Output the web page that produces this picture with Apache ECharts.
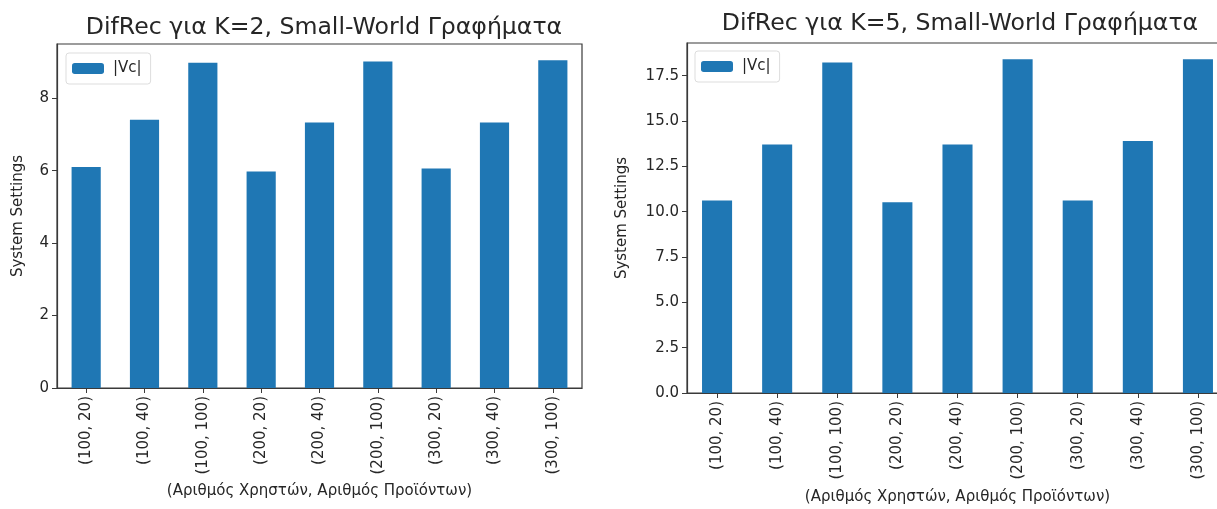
<!DOCTYPE html>
<html>
<head>
<meta charset="utf-8">
<script src="https://cdn.jsdelivr.net/npm/echarts@6/dist/echarts.min.js"></script>
<style>
  html, body { margin: 0; padding: 0; background: #fff; }
  #chart { width: 1217px; height: 509px; }
</style>
</head>
<body>
<div id="chart"></div>
<script>
// (users, items) configurations
const categories = ['(100, 20)', '(100, 40)', '(100, 100)', '(200, 20)', '(200, 40)', '(200, 100)', '(300, 20)', '(300, 40)', '(300, 100)'];
// |Vc| per configuration, K=2 and K=5
const vcK2 = [6.10, 7.41, 8.98, 5.98, 7.33, 9.02, 6.06, 7.33, 9.05];
const vcK5 = [10.62, 13.70, 18.22, 10.52, 13.70, 18.40, 10.62, 13.90, 18.40];
const seriesName = '|Vc|';
const titleK2 = 'DifRec για K=2, Small-World Γραφήματα';
const titleK5 = 'DifRec για K=5, Small-World Γραφήματα';
const xName = '(Αριθμός Χρηστών, Αριθμός Προϊόντων)';
const yName = 'System Settings';

const FONT = 'DejaVu Sans';
const TXT = '#262626';
const BLUE = '#1f77b4';
const AX = '#3a3a3a';

function xAxisCfg(gridIndex, gap) {
  return {
    type: 'category', gridIndex, data: categories,
    name: xName, nameLocation: 'middle', nameGap: gap,
    nameTextStyle: { fontFamily: FONT, fontSize: 15, color: TXT },
    axisLine: { show: true, lineStyle: { color: AX, width: 1.2 } },
    axisTick: { show: true, alignWithLabel: true, length: 5, lineStyle: { color: AX } },
    axisLabel: { rotate: 90, fontFamily: FONT, fontSize: 15, color: TXT, margin: 8, interval: 0 },
    splitLine: { show: false }
  };
}
function yAxisCfg(gridIndex, max, interval, digits, gap) {
  return {
    type: 'value', gridIndex, min: 0, max, interval,
    name: yName, nameLocation: 'middle', nameGap: gap, nameRotate: 90,
    nameTextStyle: { fontFamily: FONT, fontSize: 15, color: TXT },
    axisLine: { show: true, lineStyle: { color: AX, width: 1.2 } },
    axisTick: { show: true, length: 5, lineStyle: { color: AX } },
    axisLabel: { fontFamily: FONT, fontSize: 15, color: TXT, margin: 8, showMaxLabel: false,
      formatter: v => v.toFixed(digits) },
    splitLine: { show: false }
  };
}
function legendCfg(left, top) {
  return {
    data: [seriesName], left, top, orient: 'vertical',
    itemWidth: 32, itemHeight: 11, itemGap: 10,
    padding: [8, 9, 8, 6],
    borderColor: '#dddddd', borderWidth: 1, borderRadius: 3,
    backgroundColor: 'rgba(255,255,255,0.8)',
    textStyle: { fontFamily: FONT, fontSize: 15, color: TXT, padding: [0, 0, 0, 4] },
    selectedMode: false
  };
}

const chart = echarts.init(document.getElementById('chart'), null, { renderer: 'canvas' });
chart.setOption({
  backgroundColor: '#ffffff',
  animation: false,
  title: [
    { text: titleK2, left: 319, top: 11, textAlign: 'center',
      textStyle: { fontFamily: FONT, fontSize: 23.6, fontWeight: 'normal', color: TXT } },
    { text: titleK5, left: 955, top: 7, textAlign: 'center',
      textStyle: { fontFamily: FONT, fontSize: 23.6, fontWeight: 'normal', color: TXT } }
  ],
  legend: [legendCfg(66, 53), legendCfg(695, 51)],
  grid: [
    { left: 57, top: 44, width: 525, height: 344, show: true, borderColor: AX, borderWidth: 1.2,
      containLabel: false, outerBoundsMode: 'none' },
    { left: 687, top: 43, width: 541, height: 350, show: true, borderColor: AX, borderWidth: 1.2,
      containLabel: false, outerBoundsMode: 'none' }
  ],
  xAxis: [xAxisCfg(0, 96), xAxisCfg(1, 97)],
  yAxis: [yAxisCfg(0, 9.5, 2, 0, 31), yAxisCfg(1, 19.3, 2.5, 1, 57)],
  series: [
    { name: seriesName, type: 'bar', xAxisIndex: 0, yAxisIndex: 0, data: vcK2,
      barWidth: '50%', itemStyle: { color: BLUE } },
    { name: seriesName, type: 'bar', xAxisIndex: 1, yAxisIndex: 1, data: vcK5,
      barWidth: '50%', itemStyle: { color: BLUE } }
  ]
});
</script>
</body>
</html>
